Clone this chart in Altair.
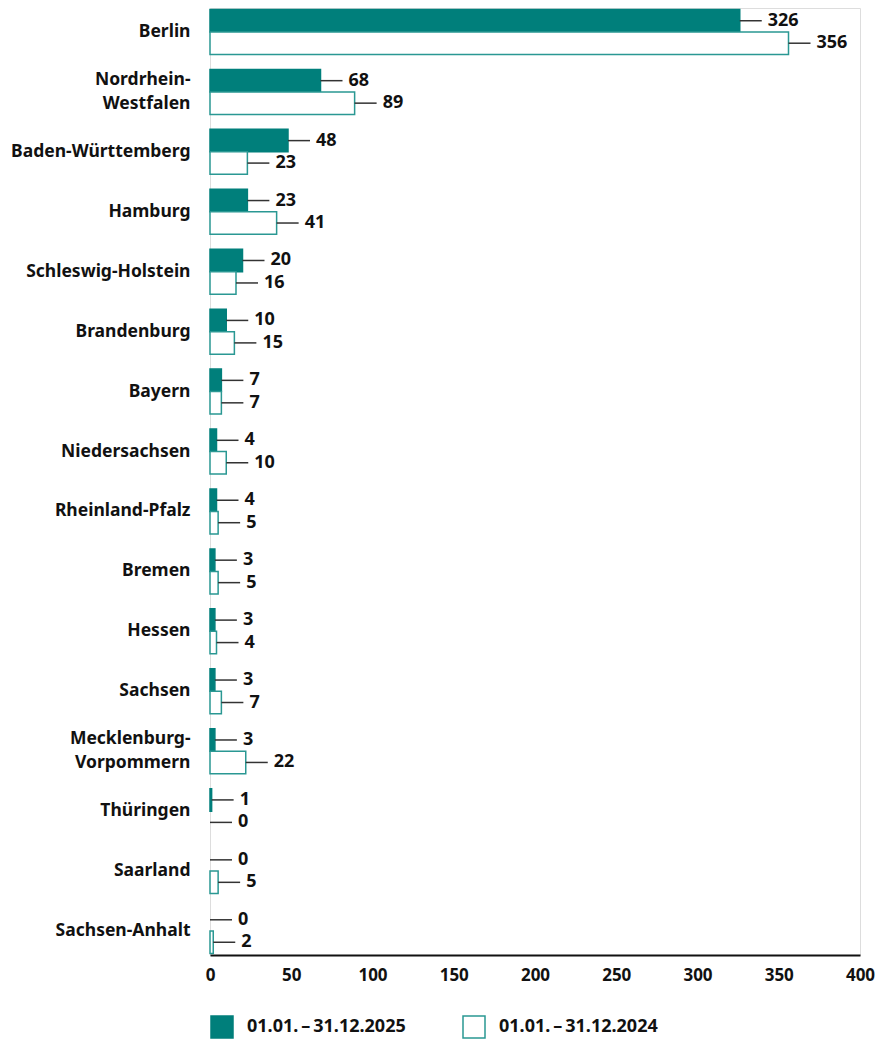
import altair as alt
import pandas as pd

states = ["Berlin", "Nordrhein-Westfalen", "Baden-Württemberg", "Hamburg",
          "Schleswig-Holstein", "Brandenburg", "Bayern", "Niedersachsen",
          "Rheinland-Pfalz", "Bremen", "Hessen", "Sachsen",
          "Mecklenburg-Vorpommern", "Thüringen", "Saarland", "Sachsen-Anhalt"]
v2025 = [326, 68, 48, 23, 20, 10, 7, 4, 4, 3, 3, 3, 3, 1, 0, 0]
v2024 = [356, 89, 23, 41, 16, 15, 7, 10, 5, 5, 4, 7, 22, 0, 5, 2]
s25 = "01.01.\u2009–\u200931.12.2025"
s24 = "01.01.\u2009–\u200931.12.2024"
series = [s25, s24]
xticks = [0, 50, 100, 150, 200, 250, 300, 350, 400]

rows = []
for s, a, b in zip(states, v2025, v2024):
    rows.append({"state": s, "series": s25, "value": a})
    rows.append({"state": s, "series": s24, "value": b})
df = pd.DataFrame(rows)

teal = "#007f7b"
teal_line = "#2a9893"
FONT = "Noto Sans"
TXT = "#111111"

label_expr = ("datum.value == 'Nordrhein-Westfalen' ? ['Nordrhein-', 'Westfalen'] : "
              "datum.value == 'Mecklenburg-Vorpommern' ? ['Mecklenburg-', 'Vorpommern'] : datum.value")
multi_test = "datum.value == 'Nordrhein-Westfalen' || datum.value == 'Mecklenburg-Vorpommern'"

y = alt.Y("state:N", sort=states, title=None,
          scale=alt.Scale(paddingInner=0.25, paddingOuter=0.025),
          axis=alt.Axis(domain=False, ticks=False, labelFont=FONT, labelFontSize=17.5,
                        labelFontWeight="bold", labelColor=TXT, labelPadding=20,
                        labelLimit=300, labelExpr=label_expr, labelLineHeight=24,
                        labelOffset={"condition": {"test": multi_test, "value": -12},
                                     "value": 0}))
yo = alt.YOffset("series:N", sort=series,
                 scale=alt.Scale(domain=series, paddingInner=0, paddingOuter=0))
x = alt.X("value:Q", title=None,
          scale=alt.Scale(domain=[0, 400], nice=False),
          axis=alt.Axis(values=xticks, ticks=False, grid=False, domainColor=TXT,
                        domainWidth=2, labelFont=FONT, labelFontSize=17,
                        labelFontWeight="bold", labelColor=TXT, labelPadding=12,
                        labelFlush=False))

base = alt.Chart(df)

bars = base.transform_filter("datum.value > 0").mark_bar(strokeWidth=1.5).encode(
    x=x, y=y, yOffset=yo,
    fill=alt.Fill("series:N", sort=series,
                  scale=alt.Scale(domain=series, range=[teal, "white"]),
                  legend=alt.Legend(title=None, orient="none", legendX=0, legendY=1007,
                                    direction="horizontal", symbolType="square",
                                    symbolSize=484, symbolStrokeColor=teal_line,
                                    symbolStrokeWidth=1.5, labelFont=FONT,
                                    labelFontSize=18, labelFontWeight="bold",
                                    labelColor=TXT, labelOffset=13, columnPadding=54,
                                    labelLimit=300)),
    stroke=alt.Stroke("series:N", sort=series,
                      scale=alt.Scale(domain=series, range=[teal, teal_line]),
                      legend=None),
)

rules = base.mark_rule(x2Offset=22, color="#333333", strokeWidth=1.5).encode(
    x=alt.X("value:Q"), x2=alt.X2("value"), y=y, yOffset=yo)

texts = base.mark_text(align="left", baseline="middle", dx=28, font=FONT,
                       fontSize=18, fontWeight="bold", color=TXT).encode(
    x=alt.X("value:Q"), y=y, yOffset=yo, text=alt.Text("value:Q"))

chart = alt.layer(bars, rules, texts).properties(
    width=650, height=947,
    autosize=alt.AutoSizeParams(type="none"),
    padding={"left": 202, "top": 0, "right": 17, "bottom": 85},
).configure_view(stroke=None).configure(font=FONT)

chart.save("out.html", embed_options={"renderer": "svg", "actions": False})
